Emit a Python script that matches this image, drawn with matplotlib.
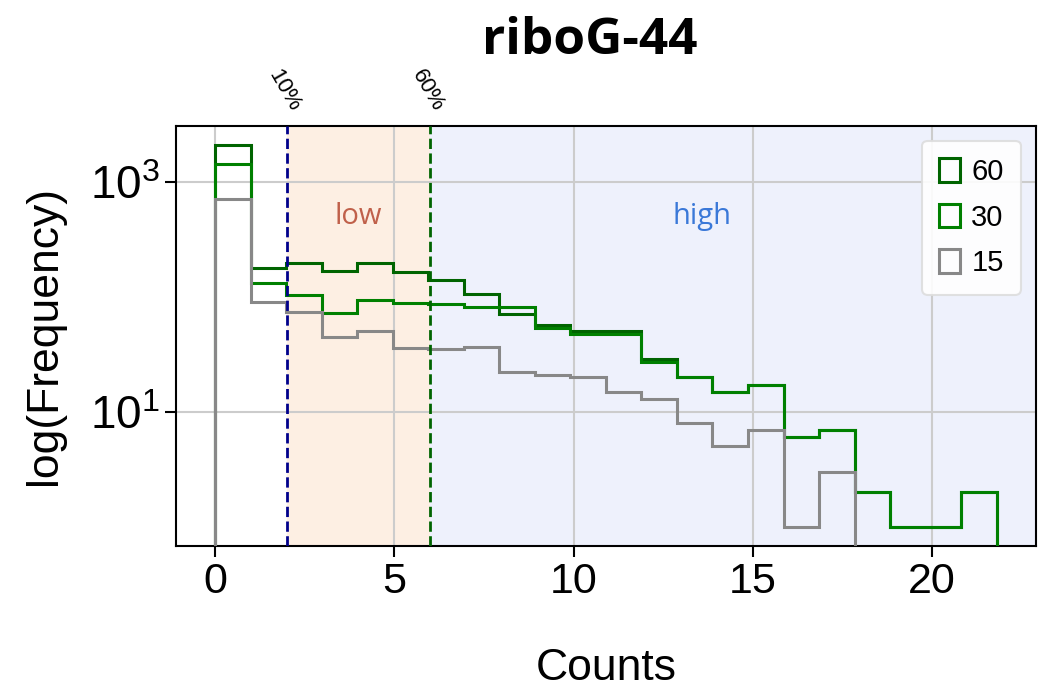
import numpy as np
import matplotlib
matplotlib.use("Agg")
import matplotlib.pyplot as plt
from matplotlib.ticker import LogFormatterSciNotation, NullLocator, FixedLocator
from matplotlib.patches import Patch
from matplotlib.transforms import offset_copy

# ---- data ----
bin_edges = np.linspace(0, 21.8, 23)
counts_60 = [2100, 178, 196, 169, 196, 166, 140, 106, 71, 57, 51, 51, 29, 20, 15, 17, 6, 7, 2, 1, 1, 2]
counts_30 = [1434, 131, 104, 73, 94, 89, 86, 81, 81, 54, 48, 48, 27, 20, 15, 17, 6, 7, 2, 1, 1, 2]
counts_15 = [707, 91, 74, 45, 50, 36, 35, 37, 22, 21, 20, 15, 13, 8, 5, 7, 1, 3, 0, 0, 0, 0]
series_labels = ["60", "30", "15"]
thresholds = [2, 6]
threshold_labels = ["10%", "60%"]
region_labels = ["low", "high"]
title = "riboG-44"

plt.rcParams['font.family'] = ['Liberation Sans', 'DejaVu Sans']

fig = plt.figure(figsize=(10.41, 6.96), dpi=100)
ax = fig.add_axes([0.169, 0.2155, 0.826, 0.6035])

centers = (bin_edges[:-1] + bin_edges[1:]) / 2
colors = ["#006400", "#008000", "#888888"]
for cnt, lab, col in zip([counts_60, counts_30, counts_15], series_labels, colors):
    ax.hist(centers, bins=bin_edges, weights=cnt, histtype='step', color=col,
            linewidth=2.2, label=lab, zorder=3)

ax.set_yscale('log', nonpositive='clip')
ax.set_xlim(-1.09, 22.89)
ax.set_ylim(0.68, 3070)

# shaded regions
ax.axvspan(thresholds[0], thresholds[1], color='#FDEFE3', zorder=0)
ax.axvspan(thresholds[1], 22.89, color='#EEF1FC', zorder=0)
ax.axvline(thresholds[0], color='#00008B', linestyle='--', linewidth=2, zorder=4)
ax.axvline(thresholds[1], color='#006400', linestyle='--', linewidth=2, zorder=4)

ax.text(4, 500, region_labels[0], color='#C0604A', fontsize=21, ha='center', va='center',
        family=['Open Sans', 'DejaVu Sans'])
ax.text(13.58, 500, region_labels[1], color='#3A78D8', fontsize=21, ha='center', va='center',
        family=['Open Sans', 'DejaVu Sans'])

xtrans = ax.get_xaxis_transform()
for xv, tl in zip(thresholds, threshold_labels):
    ax.text(xv, 1.13, tl, transform=offset_copy(xtrans, fig=fig, x=-14, y=0, units='dots'),
            rotation=-60, rotation_mode='anchor', ha='left', va='center', fontsize=16)

ax.yaxis.set_major_locator(FixedLocator([10, 1000]))
ax.yaxis.set_major_formatter(LogFormatterSciNotation())
ax.yaxis.set_minor_locator(NullLocator())
ax.set_xticks([0, 5, 10, 15, 20])

ax.grid(True, color='#CCCCCC', linewidth=1.5, zorder=1)
ax.set_axisbelow(True)

ax.tick_params(axis='x', labelsize=31, length=8, width=1.5)
ax.tick_params(axis='y', labelsize=33, length=8, width=1.5)
for s in ax.spines.values():
    s.set_linewidth(1.5)

ax.set_xlabel("Counts", fontsize=32, labelpad=33)
ax.set_ylabel("log(Frequency)", fontsize=32, labelpad=18)
ax.set_title(title, fontsize=37, fontweight='bold', family=['Open Sans', 'DejaVu Sans'],
             pad=52, x=0.481)

handles = [Patch(facecolor='none', edgecolor=c, linewidth=2.2) for c in colors]
leg = ax.legend(handles, series_labels, loc='upper right', fontsize=21, handlelength=0.7,
                handleheight=0.85, handletextpad=0.4, framealpha=0.9, borderpad=0.6,
                labelspacing=0.6, borderaxespad=0.5)
leg.get_frame().set_linewidth(1.5)
leg.get_frame().set_edgecolor('#DDDDDD')

fig.savefig("out.png", dpi=100)
